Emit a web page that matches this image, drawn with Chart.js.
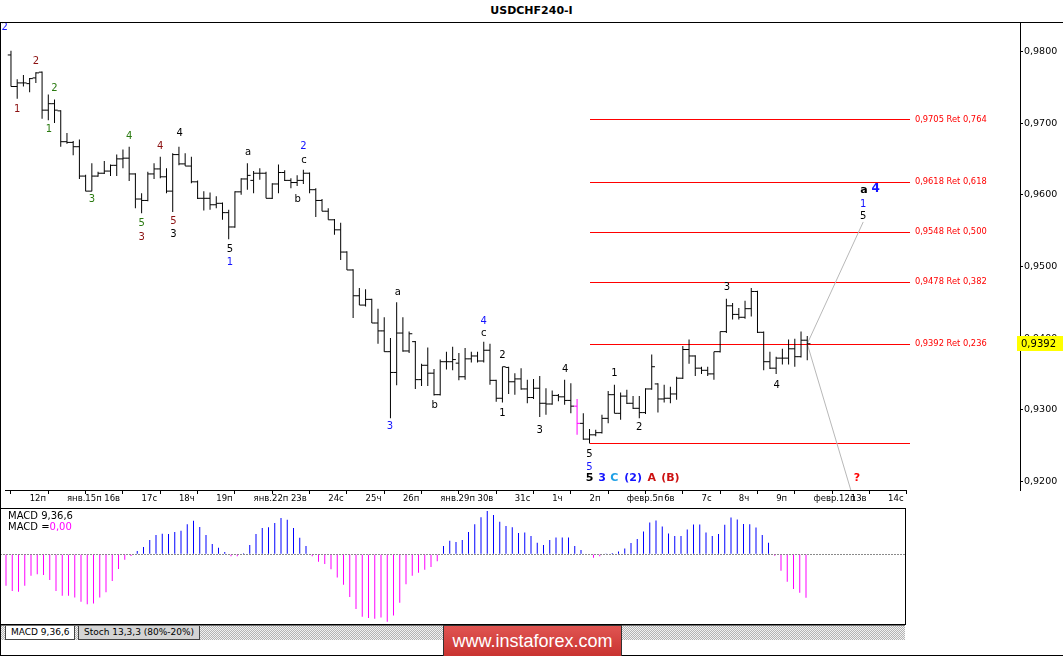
<!DOCTYPE html>
<html>
<head>
<meta charset="utf-8">
<script src="https://cdn.jsdelivr.net/npm/chart.js@4.4.1/dist/chart.umd.min.js"></script>
<style>
  html, body { margin: 0; padding: 0; background: #fff; }
  body { width: 1063px; height: 656px; position: relative; overflow: hidden; font-family: "DejaVu Sans", sans-serif; }
  #title { position: absolute; left: 0; top: 4px; width: 1063px; text-align: center; font-weight: bold; font-size: 11px; }
  #topLine { position: absolute; left: 0; top: 22px; width: 1063px; height: 1px; background: #000; }
  #leftLine { position: absolute; left: 0; top: 22px; width: 1px; height: 634px; background: #000; }
  #bottomLine { position: absolute; left: 0; top: 655px; width: 1063px; height: 1px; background: #000; }
  #main { position: absolute; left: 0; top: 0; }
  #macd { position: absolute; left: 0; top: 509px; }
  #macdBox { position: absolute; left: 0; top: 508px; width: 904px; height: 115px; border: 1px solid #000; pointer-events: none; }
  .macdText { position: absolute; left: 8px; font-size: 10px; color: #000; }
  #strip { position: absolute; left: 0; top: 625px; width: 905px; height: 14px; border-top: 1px solid #707070;
           background: repeating-conic-gradient(#b4b4b4 0 25%, #f2f2f2 0 50%) 0 0 / 2px 2px; }
  .tab { position: absolute; top: 0; height: 13px; font-size: 9px; line-height: 13px; padding: 0 5px;
         border: 1px solid #444; border-top: none; }
  #banner { position: absolute; left: 443px; top: 625px; width: 177px; height: 30px; border: 1px solid #333;
            background: linear-gradient(#e05552, #c93330); color: #fff; font-family: "Liberation Sans", Arial, sans-serif;
            font-size: 18px; line-height: 30px; text-align: center; }
</style>
</head>
<body>
<div id="title">USDCHF240-I</div>
<canvas id="main" width="1063" height="506"></canvas>
<div id="topLine"></div>
<canvas id="macd" width="905" height="115"></canvas>
<div id="macdBox"></div>
<div class="macdText" style="top:510px">MACD 9,36,6</div>
<div class="macdText" style="top:521px">MACD =<span style="color:#ff00ff">0,00</span></div>
<div id="strip">
  <div class="tab" style="left:5px;background:#fff">MACD 9,36,6</div>
  <div class="tab" style="left:78px;background:#d4d4d4">Stoch 13,3,3 (80%-20%)</div>
</div>
<div id="leftLine"></div>
<div id="bottomLine"></div>
<div id="banner">www.instaforex.com</div>

<script>
"use strict";

// USDCHF 4H bars, Jan 11 12:00 .. Feb 9 20:00 (index = bar number)
const opens = [
  0.9795, 0.9751, 0.9756, 0.9755, 0.9763, 0.9771, 0.9718, 0.9727, 0.9717, 0.9674,
  0.9673, 0.9667, 0.9626, 0.9605, 0.9626, 0.9630, 0.9633, 0.9641, 0.9650, 0.9651,
  0.9629, 0.9594, 0.9592, 0.9629, 0.9636, 0.9625, 0.9605, 0.9656, 0.9643, 0.9640,
  0.9618, 0.9595, 0.9595, 0.9586, 0.9588, 0.9575, 0.9555, 0.9604, 0.9622, 0.9620,
  0.9630, 0.9630, 0.9595, 0.9615, 0.9631, 0.9620, 0.9617, 0.9620, 0.9630, 0.9607,
  0.9592, 0.9577, 0.9565, 0.9551, 0.9520, 0.9495, 0.9459, 0.9446, 0.9454, 0.9421,
  0.9410, 0.9381, 0.9352, 0.9407, 0.9382, 0.9395, 0.9342, 0.9362, 0.9351, 0.9321,
  0.9367, 0.9367, 0.9365, 0.9346, 0.9371, 0.9375, 0.9368, 0.9383, 0.9341, 0.9316,
  0.9359, 0.9339, 0.9343, 0.9329, 0.9317, 0.9330, 0.9309, 0.9308, 0.9320, 0.9318,
  0.9313, 0.9305, 0.9281, 0.9259, 0.9265, 0.9268, 0.9288, 0.9321, 0.9295, 0.9319,
  0.9309, 0.9302, 0.9296, 0.9329, 0.9336, 0.9315, 0.9316, 0.9322, 0.9344, 0.9384,
  0.9375, 0.9358, 0.9355, 0.9350, 0.9381, 0.9409, 0.9445, 0.9433, 0.9429, 0.9441,
  0.9465, 0.9408, 0.9367, 0.9358, 0.9372, 0.9372, 0.9385, 0.9374, 0.9397
];
const highs = [
  0.9801, 0.9761, 0.9767, 0.9763, 0.9771, 0.9772, 0.9740, 0.9733, 0.9718, 0.9686,
  0.9675, 0.9677, 0.9628, 0.9644, 0.9632, 0.9647, 0.9642, 0.9656, 0.9663, 0.9667,
  0.9630, 0.9602, 0.9632, 0.9644, 0.9653, 0.9637, 0.9658, 0.9667, 0.9658, 0.9653,
  0.9620, 0.9605, 0.9603, 0.9598, 0.9589, 0.9579, 0.9605, 0.9623, 0.9644, 0.9633,
  0.9637, 0.9632, 0.9616, 0.9642, 0.9634, 0.9623, 0.9627, 0.9635, 0.9631, 0.9609,
  0.9594, 0.9581, 0.9566, 0.9561, 0.9521, 0.9496, 0.9470, 0.9468, 0.9455, 0.9441,
  0.9429, 0.9400, 0.9450, 0.9429, 0.9409, 0.9396, 0.9364, 0.9387, 0.9357, 0.9370,
  0.9381, 0.9388, 0.9379, 0.9386, 0.9381, 0.9381, 0.9395, 0.9392, 0.9342, 0.9360,
  0.9360, 0.9351, 0.9358, 0.9342, 0.9343, 0.9347, 0.9330, 0.9327, 0.9322, 0.9342,
  0.9337, 0.9315, 0.9295, 0.9273, 0.9272, 0.9293, 0.9326, 0.9335, 0.9324, 0.9328,
  0.9319, 0.9319, 0.9330, 0.9377, 0.9337, 0.9335, 0.9332, 0.9346, 0.9389, 0.9398,
  0.9376, 0.9360, 0.9360, 0.9381, 0.9409, 0.9455, 0.9449, 0.9442, 0.9452, 0.9470,
  0.9466, 0.9409, 0.9381, 0.9374, 0.9385, 0.9398, 0.9399, 0.9409, 0.9403
];
const lows = [
  0.9751, 0.9734, 0.9751, 0.9743, 0.9756, 0.9706, 0.9704, 0.9700, 0.9667, 0.9671,
  0.9655, 0.9622, 0.9605, 0.9605, 0.9625, 0.9629, 0.9626, 0.9626, 0.9637, 0.9619,
  0.9581, 0.9574, 0.9591, 0.9622, 0.9623, 0.9602, 0.9576, 0.9641, 0.9640, 0.9616,
  0.9594, 0.9578, 0.9579, 0.9581, 0.9565, 0.9538, 0.9554, 0.9600, 0.9607, 0.9602,
  0.9621, 0.9595, 0.9594, 0.9602, 0.9619, 0.9609, 0.9612, 0.9615, 0.9602, 0.9569,
  0.9577, 0.9565, 0.9544, 0.9509, 0.9495, 0.9428, 0.9446, 0.9444, 0.9421, 0.9392,
  0.9381, 0.9288, 0.9334, 0.9381, 0.9379, 0.9329, 0.9333, 0.9333, 0.9320, 0.9320,
  0.9356, 0.9355, 0.9341, 0.9342, 0.9366, 0.9366, 0.9366, 0.9335, 0.9311, 0.9310,
  0.9322, 0.9321, 0.9328, 0.9309, 0.9315, 0.9290, 0.9293, 0.9307, 0.9312, 0.9307,
  0.9295, 0.9265, 0.9258, 0.9253, 0.9263, 0.9267, 0.9281, 0.9295, 0.9286, 0.9308,
  0.9301, 0.9288, 0.9294, 0.9328, 0.9296, 0.9310, 0.9309, 0.9314, 0.9343, 0.9364,
  0.9347, 0.9350, 0.9347, 0.9342, 0.9380, 0.9407, 0.9426, 0.9426, 0.9427, 0.9430,
  0.9407, 0.9355, 0.9357, 0.9350, 0.9363, 0.9363, 0.9360, 0.9373, 0.9369
];
const closes = [
  0.9751, 0.9756, 0.9756, 0.9762, 0.9770, 0.9718, 0.9727, 0.9718, 0.9674, 0.9673,
  0.9667, 0.9626, 0.9605, 0.9626, 0.9630, 0.9633, 0.9641, 0.9650, 0.9651, 0.9629,
  0.9594, 0.9592, 0.9629, 0.9636, 0.9625, 0.9605, 0.9656, 0.9643, 0.9640, 0.9618,
  0.9595, 0.9595, 0.9586, 0.9588, 0.9575, 0.9555, 0.9604, 0.9622, 0.9627, 0.9630,
  0.9630, 0.9595, 0.9615, 0.9631, 0.9620, 0.9617, 0.9620, 0.9630, 0.9607, 0.9592,
  0.9577, 0.9565, 0.9551, 0.9520, 0.9495, 0.9459, 0.9446, 0.9454, 0.9421, 0.9410,
  0.9381, 0.9352, 0.9407, 0.9382, 0.9406, 0.9342, 0.9362, 0.9351, 0.9321, 0.9367,
  0.9367, 0.9370, 0.9346, 0.9371, 0.9375, 0.9368, 0.9383, 0.9341, 0.9316, 0.9360,
  0.9339, 0.9343, 0.9329, 0.9317, 0.9330, 0.9309, 0.9308, 0.9320, 0.9318, 0.9313,
  0.9305, 0.9281, 0.9259, 0.9265, 0.9268, 0.9288, 0.9321, 0.9295, 0.9319, 0.9309,
  0.9302, 0.9296, 0.9329, 0.9360, 0.9315, 0.9316, 0.9322, 0.9344, 0.9384, 0.9375,
  0.9358, 0.9355, 0.9350, 0.9381, 0.9409, 0.9445, 0.9433, 0.9429, 0.9441, 0.9465,
  0.9408, 0.9367, 0.9358, 0.9372, 0.9372, 0.9385, 0.9374, 0.9397, 0.9392
];
const highlightBar = 91;   // bar drawn in magenta

// MACD(9,36,6) histogram, one value per bar
const macdHist = [
  -0.00324, -0.00379, -0.00386, -0.00324, -0.00221, -0.00207, -0.00214, -0.00266, -0.00379, -0.00428,
  -0.00428, -0.00448, -0.00490, -0.00517, -0.00510, -0.00448, -0.00393, -0.00276, -0.00152, -0.00055,
  -0.00017, 0.00034, 0.00076, 0.00148, 0.00200, 0.00214, 0.00210, 0.00231, 0.00245, 0.00310,
  0.00348, 0.00283, 0.00200, 0.00107, 0.00069, 0.00024, -0.00021, -0.00021, 0.00010, 0.00097,
  0.00210, 0.00272, 0.00279, 0.00324, 0.00376, 0.00359, 0.00272, 0.00172, 0.00086, -0.00021,
  -0.00076, -0.00100, -0.00155, -0.00241, -0.00314, -0.00441, -0.00566, -0.00645, -0.00659, -0.00666,
  -0.00655, -0.00697, -0.00634, -0.00500, -0.00310, -0.00221, -0.00190, -0.00159, -0.00131, -0.00072,
  0.00086, 0.00141, 0.00128, 0.00148, 0.00231, 0.00310, 0.00383, 0.00448, 0.00407, 0.00338,
  0.00293, 0.00279, 0.00221, 0.00225, 0.00190, 0.00121, 0.00097, 0.00149, 0.00173, 0.00173,
  0.00173, 0.00087, 0.00045, 0.00005, -0.00035, -0.00021, 0.00003, 0.00014, 0.00028, 0.00059,
  0.00118, 0.00159, 0.00235, 0.00329, 0.00350, 0.00287, 0.00215, 0.00190, 0.00190, 0.00256,
  0.00308, 0.00308, 0.00225, 0.00190, 0.00211, 0.00305, 0.00381, 0.00360, 0.00315, 0.00312,
  0.00277, 0.00201, 0.00121, -0.00014, -0.00170, -0.00284, -0.00360, -0.00398, -0.00450
];

// time axis: one label per trading day, 6 bars a day, first day starts at bar 3
const dayLabels = ["12п", "янв.15п", "16в", "17с", "18ч", "19п", "янв.22п", "23в", "24с", "25ч", "26п",
                   "янв.29п", "30в", "31с", "1ч", "2п", "февр.5п", "6в", "7с", "8ч", "9п", "февр.12п", "13в", "14с"];
const firstDayBar = 3;
const barsPerDay = 6;

// Fibonacci retracement drawn from the Feb 2 low
const fibLevels = [0.9705, 0.9618, 0.9548, 0.9478, 0.9392, 0.9253];
const fibRatios = [0.764, 0.618, 0.500, 0.382, 0.236, null];
const fibStartBar = 93;
const fibEndBar = 144.5;

// forecast paths from the last close
const upPath = [{ x: 128, y: 0.9392 }, { x: 137, y: 0.9562 }];
const downPath = [{ x: 128, y: 0.9392 }, { x: 135, y: 0.9188 }];

// wave count labels: text, bar, price, style
const waveLabels = [
  ["2", -1.0, 0.9833, "blue"],
  ["1", 1.0, 0.9719, "dred"], ["2", 4.0, 0.9786, "dred"],
  ["2", 7.0, 0.9748, "green"], ["1", 6.1, 0.9691, "green"], ["3", 13.0, 0.9593, "green"],
  ["4", 19.0, 0.9682, "green"], ["5", 21.0, 0.9560, "green"], ["3", 21.0, 0.9541, "dred"],
  ["4", 24.0, 0.9667, "dred"], ["5", 26.1, 0.9563, "dred"], ["3", 26.1, 0.9544, "black"],
  ["4", 27.1, 0.9686, "black"], ["5", 35.2, 0.9524, "black"], ["1", 35.2, 0.9505, "blue"],
  ["a", 38.1, 0.9659, "black"], ["2", 47.0, 0.9667, "blue"], ["c", 47.1, 0.9648, "black"],
  ["b", 46.1, 0.9594, "black"], ["3", 60.9, 0.9277, "blue"], ["a", 62.2, 0.9464, "black"],
  ["b", 68.1, 0.9306, "black"], ["4", 76.0, 0.9423, "blue"], ["c", 76.0, 0.9407, "black"],
  ["2", 79.0, 0.9376, "black"], ["1", 79.0, 0.9295, "black"], ["3", 85.0, 0.9271, "black"],
  ["4", 89.1, 0.9356, "black"], ["5", 93.0, 0.9237, "black"], ["5", 93.0, 0.9219, "blue"],
  ["5", 93.0, 0.9205, "boldBlack"], ["3", 95.0, 0.9205, "boldBlue"], ["C", 97.0, 0.9205, "boldCyan"],
  ["(2)", 100.0, 0.9205, "boldBlue"], ["A", 103.0, 0.9205, "boldRed"], ["(B)", 106.0, 0.9205, "boldRed"],
  ["1", 97.0, 0.9351, "black"], ["2", 101.0, 0.9276, "black"], ["3", 115.1, 0.9471, "black"],
  ["4", 123.1, 0.9334, "black"], ["?", 136.0, 0.9205, "boldQ"],
  ["a", 137.1, 0.9606, "boldBlack"], ["4", 139.0, 0.9608, "bigBlue"],
  ["1", 137.0, 0.9586, "blue"], ["5", 137.0, 0.9570, "black"]
];

const labelStyles = {
  black: { color: "#000000", font: '10px "DejaVu Sans"' },
  blue: { color: "#1414ff", font: '10px "DejaVu Sans"' },
  dred: { color: "#8b1010", font: '10px "DejaVu Sans"' },
  green: { color: "#2a7a10", font: '10px "DejaVu Sans"' },
  boldBlack: { color: "#000000", font: 'bold 11px "DejaVu Sans"' },
  boldBlue: { color: "#1414ff", font: 'bold 11px "DejaVu Sans"' },
  boldCyan: { color: "#1ea0e6", font: 'bold 11px "DejaVu Sans"' },
  boldRed: { color: "#cc1111", font: 'bold 11px "DejaVu Sans"' },
  boldQ: { color: "#ff0000", font: 'bold 11px "DejaVu Sans"' },
  bigBlue: { color: "#1414ff", font: 'bold 12px "DejaVu Sans"' }
};

const xMin = -0.96;          // left edge of the plot, in bars
const xMaxMain = 162.2;      // right edge at the price scale
const xMaxMacd = 143.84;     // right edge of the MACD window
const timeAxisEnd = 144;

const comma = (v, d) => v.toFixed(d).replace(".", ",");
const barColor = i => (i === highlightBar ? "#ff00ff" : "#000000");

const annotate = {
  id: "annotate",
  beforeDatasetsDraw(chart) {
    // Fibonacci levels, one pixel wide on whole pixels
    const { ctx, scales: { x, y } } = chart;
    const x0 = Math.round(x.getPixelForValue(fibStartBar));
    const x1 = Math.round(x.getPixelForValue(fibEndBar));
    ctx.save();
    ctx.strokeStyle = "#ff0000";
    ctx.lineWidth = 1;
    fibLevels.forEach(lv => {
      const py = Math.round(y.getPixelForValue(lv)) + 0.5;
      ctx.beginPath();
      ctx.moveTo(x0, py);
      ctx.lineTo(x1, py);
      ctx.stroke();
    });
    ctx.restore();
  },
  afterDatasetsDraw(chart) {
    const { ctx, scales: { x, y } } = chart;
    ctx.save();
    ctx.textAlign = "center";
    ctx.textBaseline = "middle";
    waveLabels.forEach(([t, bar, p, s]) => {
      ctx.font = labelStyles[s].font;
      ctx.fillStyle = labelStyles[s].color;
      ctx.fillText(t, x.getPixelForValue(bar), y.getPixelForValue(p));
    });
    ctx.textAlign = "left";
    ctx.font = '8.3px "DejaVu Sans"';
    ctx.fillStyle = "#ff0000";
    fibLevels.forEach((lv, k) => {
      if (fibRatios[k] === null) return;
      ctx.fillText(comma(lv, 4) + " Ret " + comma(fibRatios[k], 3),
        x.getPixelForValue(fibEndBar) + 5, y.getPixelForValue(lv));
    });
    ctx.restore();
  },
  afterDraw(chart) {
    const { ctx, chartArea, scales: { x, y } } = chart;
    ctx.save();
    // time axis base line
    ctx.strokeStyle = "#000";
    ctx.lineWidth = 1;
    ctx.beginPath();
    ctx.moveTo(chartArea.left, chartArea.bottom + 0.5);
    ctx.lineTo(x.getPixelForValue(timeAxisEnd), chartArea.bottom + 0.5);
    ctx.stroke();
    // last price tag
    const last = closes[closes.length - 1];
    const py = Math.round(y.getPixelForValue(last));
    ctx.fillStyle = "#ffff00";
    ctx.fillRect(chartArea.right - 3, py - 8, 46, 15);
    ctx.fillStyle = "#000";
    ctx.font = '10px "DejaVu Sans"';
    ctx.textBaseline = "middle";
    ctx.fillText(comma(last, 4), chartArea.right + 1, py);
    ctx.restore();
  }
};

new Chart(document.getElementById("main"), {
  type: "line",
  data: {
    datasets: [
      {
        type: "bar",
        data: highs.map((h, i) => ({ x: i, y: [lows[i], h] })),
        backgroundColor: highs.map((h, i) => barColor(i)),
        barThickness: 1,
        inflateAmount: 0,
        order: 1
      },
      {
        type: "scatter",
        data: opens.map((o, i) => ({ x: i - 0.26, y: o })),
        showLine: false,
        pointStyle: "line",
        pointRadius: 1.6,
        pointBorderWidth: 1,
        pointBorderColor: opens.map((o, i) => barColor(i)),
        order: 1
      },
      {
        type: "scatter",
        data: closes.map((c, i) => ({ x: i + 0.26, y: c })),
        showLine: false,
        pointStyle: "line",
        pointRadius: 1.6,
        pointBorderWidth: 1,
        pointBorderColor: closes.map((c, i) => barColor(i)),
        order: 1
      },
      { type: "line", data: upPath, borderColor: "#b8b8b8", borderWidth: 1, pointRadius: 0, order: 3 },
      { type: "line", data: downPath, borderColor: "#b8b8b8", borderWidth: 1, pointRadius: 0, order: 3 }
    ]
  },
  options: {
    responsive: false,
    animation: false,
    events: [],
    layout: { padding: { top: 22, left: 0, right: 0, bottom: 0 } },
    plugins: { legend: { display: false }, tooltip: { enabled: false } },
    scales: {
      x: {
        type: "linear",
        min: xMin,
        max: xMaxMain,
        offset: false,
        border: { display: false },
        grid: { drawOnChartArea: false, drawTicks: true, tickLength: 4, color: "#000" },
        afterBuildTicks: scale => {
          scale.ticks = dayLabels.map((_, k) => ({ value: firstDayBar + barsPerDay * k }));
        },
        afterFit: scale => { scale.height = 16; },
        ticks: {
          autoSkip: false,
          maxRotation: 0,
          align: "start",
          padding: 0,
          color: "#000",
          font: { family: "DejaVu Sans", size: 8.5 },
          callback: (v, k) => dayLabels[k]
        }
      },
      y: {
        type: "linear",
        position: "right",
        min: 0.9188,
        max: 0.9841,
        border: { display: true, color: "#000" },
        grid: { drawOnChartArea: false, drawTicks: true, tickLength: 3, color: "#000" },
        afterFit: scale => { scale.width = 43; },
        ticks: {
          stepSize: 0.01,
          includeBounds: false,
          padding: 1,
          color: "#000",
          font: { family: "DejaVu Sans", size: 9.5 },
          callback: v => comma(v, 4)
        }
      }
    }
  },
  plugins: [annotate]
});

new Chart(document.getElementById("macd"), {
  type: "bar",
  data: {
    datasets: [{
      data: macdHist.map((v, i) => ({ x: i, y: v })),
      backgroundColor: macdHist.map(v => (v >= 0 ? "#0000ff" : "#ff00ff")),
      barThickness: 1,
      inflateAmount: 0
    }]
  },
  options: {
    responsive: false,
    animation: false,
    events: [],
    layout: { padding: 0 },
    plugins: { legend: { display: false }, tooltip: { enabled: false } },
    scales: {
      x: { type: "linear", min: xMin, max: xMaxMacd, offset: false, display: false },
      y: {
        min: -0.00721,
        max: 0.00469,
        ticks: { display: false },
        border: { display: false, dash: [2, 1] },
        grid: { drawTicks: false, color: "#8a8a8a" },
        afterBuildTicks: scale => { scale.ticks = [{ value: 0 }]; }
      }
    }
  }
});
</script>
</body>
</html>
